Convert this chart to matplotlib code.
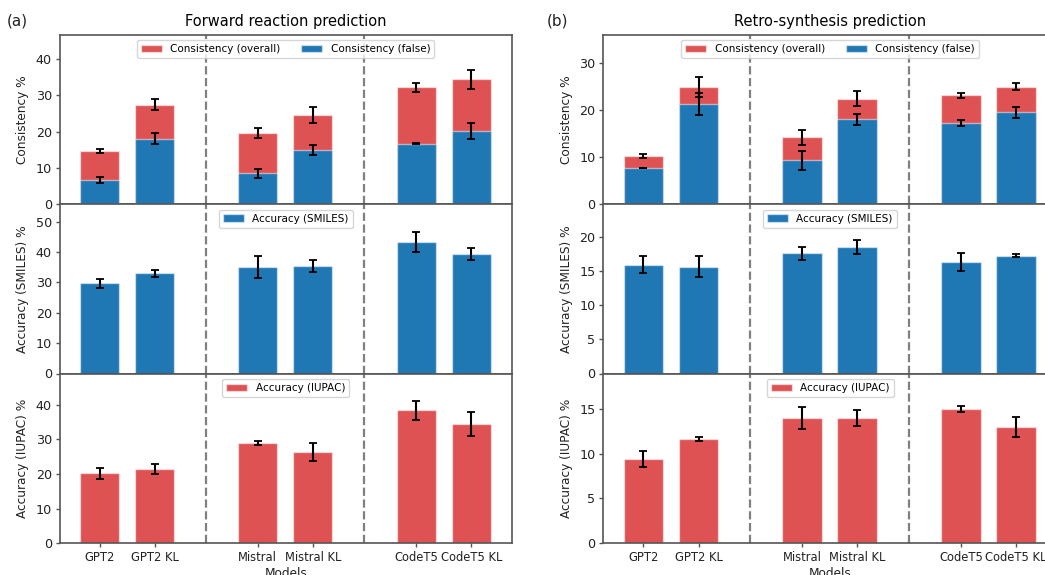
import numpy as np
import matplotlib
matplotlib.use("Agg")
import matplotlib.pyplot as plt

models = ["GPT2", "GPT2 KL", "Mistral", "Mistral KL", "CodeT5", "CodeT5 KL"]

# Forward reaction prediction
fw_cons_overall = [14.7, 27.5, 19.7, 24.5, 32.2, 34.4]
fw_cons_overall_err = [0.65, 1.5, 1.4, 2.2, 1.2, 2.7]
fw_cons_false = [6.6, 18.1, 8.5, 15.0, 16.7, 20.2]
fw_cons_false_err = [0.85, 1.55, 1.3, 1.35, 0.2, 2.25]
fw_acc_smiles = [29.7, 33.0, 35.2, 35.5, 43.2, 39.3]
fw_acc_smiles_err = [1.55, 1.2, 3.6, 2.0, 3.35, 2.0]
fw_acc_iupac = [20.2, 21.4, 29.0, 26.3, 38.4, 34.4]
fw_acc_iupac_err = [1.6, 1.35, 0.6, 2.65, 2.8, 3.55]

# Retro-synthesis prediction
rs_cons_overall = [10.26, 24.9, 14.2, 22.4, 23.1, 24.9]
rs_cons_overall_err = [0.35, 2.1, 1.6, 1.6, 0.6, 0.75]
rs_cons_false = [7.7, 21.2, 9.3, 18.0, 17.3, 19.5]
rs_cons_false_err = [0.08, 2.3, 1.95, 1.25, 0.65, 1.1]
rs_acc_smiles = [16.0, 15.7, 17.65, 18.6, 16.4, 17.3]
rs_acc_smiles_err = [1.2, 1.5, 0.95, 1.0, 1.3, 0.2]
rs_acc_iupac = [9.37, 11.64, 13.96, 13.96, 15.0, 12.99]
rs_acc_iupac_err = [0.88, 0.17, 1.2, 0.88, 0.3, 1.08]

RED = (214/255, 39/255, 40/255, 0.8)
BLUE = "#1f77b4"
EDGE = (1, 1, 1, 0.5)
SPINE = "#555555"
TXT = "#222222"

x = np.array([0, 1, 2.87, 3.87, 5.75, 6.75])
width = 0.715
xlim = (-0.73, 7.49)
dividers = [(x[1] + x[2]) / 2, (x[3] + x[4]) / 2]

fig = plt.figure(figsize=(10.45, 5.75), dpi=100)

W, H = 1045, 575
def add_ax(left_px, right_px, top_px, bottom_px):
    return fig.add_axes([left_px / W, (H - bottom_px) / H,
                         (right_px - left_px) / W, (bottom_px - top_px) / H])

rows = [(34.5, 204.3), (204.3, 373.5), (373.5, 543.3)]
err_kw = dict(ecolor="black", capsize=3, elinewidth=1.5, capthick=1.3)
LEG_FS = 7.5
YL_FS = 8.7

def style(ax):
    for s in ax.spines.values():
        s.set_color(SPINE)
        s.set_linewidth(1.2)
    ax.tick_params(colors=TXT, length=3, width=1, pad=2.4, color=SPINE, labelsize=9.2)
    ax.set_xlim(*xlim)
    for d in dividers:
        ax.axvline(d, color="#808080", linestyle="--", linewidth=1.6, zorder=0)

def panel(left_px, right_px, title, tag, tag_x,
          overall, overall_err, false_, false_err, smiles, smiles_err, iupac, iupac_err,
          ylims):
    axs = [add_ax(left_px, right_px, t, b) for t, b in rows]
    a0, a1, a2 = axs
    # consistency
    a0.bar(x, overall, width, yerr=overall_err, color=RED, edgecolor=EDGE, linewidth=1,
           label="Consistency (overall)", error_kw=err_kw, zorder=2)
    a0.bar(x, false_, width, yerr=false_err, color=BLUE, edgecolor=EDGE, linewidth=1,
           label="Consistency (false)", error_kw=err_kw, zorder=3)
    a0.set_ylabel("Consistency %", color=TXT, fontsize=YL_FS, labelpad=4.5)
    a0.legend(loc="upper center", ncol=2, fontsize=LEG_FS, framealpha=0.8)
    a0.set_title(title, fontsize=10.5, pad=6)
    # smiles
    a1.bar(x, smiles, width, yerr=smiles_err, color=BLUE, edgecolor=EDGE, linewidth=1,
           label="Accuracy (SMILES)", error_kw=err_kw, zorder=2)
    a1.set_ylabel("Accuracy (SMILES) %", color=TXT, fontsize=YL_FS, labelpad=4.5)
    a1.legend(loc="upper center", fontsize=LEG_FS, framealpha=0.8)
    # iupac
    a2.bar(x, iupac, width, yerr=iupac_err, color=RED, edgecolor=EDGE, linewidth=1,
           label="Accuracy (IUPAC)", error_kw=err_kw, zorder=2)
    a2.set_ylabel("Accuracy (IUPAC) %", color=TXT, fontsize=YL_FS, labelpad=4.5)
    a2.legend(loc="upper center", fontsize=LEG_FS, framealpha=0.8)
    a2.set_xlabel("Models", color=TXT, fontsize=YL_FS, labelpad=2.5)
    for ax, yl in zip(axs, ylims):
        style(ax)
        ax.set_ylim(0, yl)
    for ax in (a0, a1):
        ax.set_xticks(x)
        ax.tick_params(axis="x", bottom=False, labelbottom=False)
    a2.set_xticks(x)
    a2.set_xticklabels(models, fontsize=8.3)
    fig.text(tag_x / W, 1 - 21 / H, tag, fontsize=11, va="center", ha="left", color=TXT)
    return axs

axL = panel(59.5, 512, "Forward reaction prediction", "(a)", 7,
            fw_cons_overall, fw_cons_overall_err, fw_cons_false, fw_cons_false_err,
            fw_acc_smiles, fw_acc_smiles_err, fw_acc_iupac, fw_acc_iupac_err,
            [46.8, 55.7, 49.0])
axL[0].set_yticks([0, 10, 20, 30, 40])
axL[1].set_yticks([0, 10, 20, 30, 40, 50])
axL[2].set_yticks([0, 10, 20, 30, 40])

axR = panel(603, 1057, "Retro-synthesis prediction", "(b)", 547,
            rs_cons_overall, rs_cons_overall_err, rs_cons_false, rs_cons_false_err,
            rs_acc_smiles, rs_acc_smiles_err, rs_acc_iupac, rs_acc_iupac_err,
            [36.0, 24.85, 18.95])
axR[0].set_yticks([0, 10, 20, 30])
axR[1].set_yticks([0, 5, 10, 15, 20])
axR[2].set_yticks([0, 5, 10, 15])

fig.savefig("out.png", dpi=100)
